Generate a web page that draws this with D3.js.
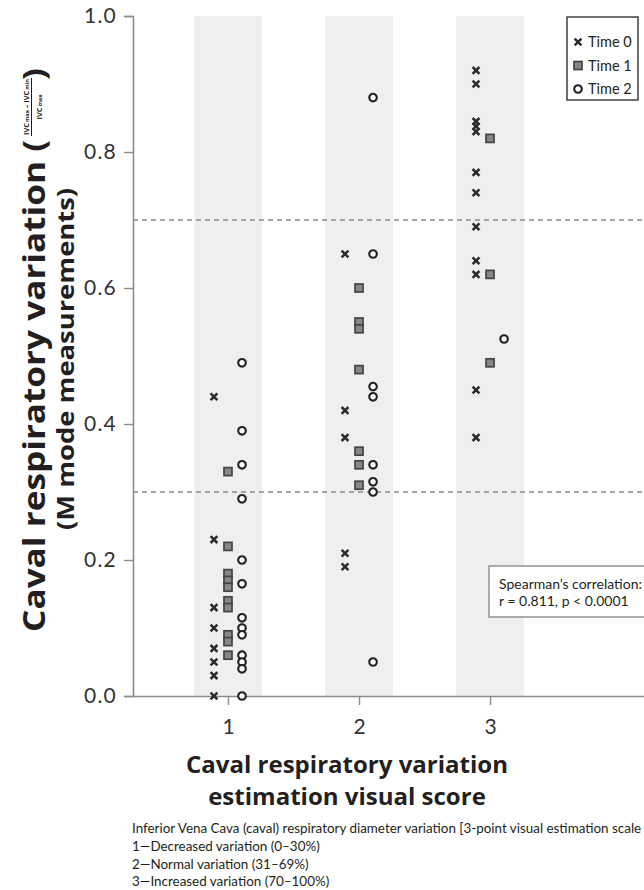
<!DOCTYPE html>
<html>
<head>
<meta charset="utf-8">
<script src="https://cdn.jsdelivr.net/npm/d3@7"></script>
<style>
  body { margin: 0; background: #fff; }
  svg { display: block; font-family: "Lato", "Open Sans", sans-serif; }
</style>
</head>
<body>
<script>
// visual score categories and series labels
var scores = [1, 2, 3];
var timeLabels = ["Time 0", "Time 1", "Time 2"];

// caval respiratory variation, one list per visual score
var time0Values = [
  [0.44, 0.23, 0.13, 0.10, 0.07, 0.05, 0.03, 0.0],
  [0.65, 0.42, 0.38, 0.21, 0.19],
  [0.92, 0.90, 0.845, 0.838, 0.83, 0.77, 0.74, 0.69, 0.64, 0.62, 0.45, 0.38]
];
var time1Values = [
  [0.33, 0.22, 0.18, 0.17, 0.16, 0.14, 0.13, 0.09, 0.08, 0.06],
  [0.60, 0.55, 0.54, 0.48, 0.36, 0.34, 0.31],
  [0.82, 0.62, 0.49]
];
var time2Values = [
  [0.49, 0.39, 0.34, 0.29, 0.20, 0.165, 0.115, 0.10, 0.09, 0.06, 0.05, 0.04, 0.0],
  [0.88, 0.65, 0.455, 0.44, 0.34, 0.315, 0.30, 0.05],
  [0.525]
];

// cut-off lines and axis ticks
var cutoffs = [0.3, 0.7];
var yTicks = [0, 0.2, 0.4, 0.6, 0.8, 1.0];

var footnote = [
  "Inferior Vena Cava (caval) respiratory diameter variation [3-point visual estimation scale",
  "1\u2014Decreased variation (0\u201330%)",
  "2\u2014Normal variation (31\u201369%)",
  "3\u2014Increased variation (70\u2013100%)"
];

window.onload = function() {
  drawChart();
};

function fit(sel, width) {
  // scales the font so the text takes the wanted length
  var w = sel.node().getComputedTextLength();
  var fs = parseFloat(sel.attr("font-size"));
  sel.attr("font-size", fs * width / w);
  return sel;
}

function drawChart() {
  var w = 644,
      h = 890,
      left = 133,
      top = 16,
      bottom = 696,
      ink = "#231f20",
      boldFont = "'Open Sans', sans-serif",
      squeeze = 0.86;

  var svg = d3.select("body")
              .append("svg")
              .attr("width", w)
              .attr("height", h);

  var xScale = d3.scaleLinear()
                 .domain([0.275, 4.175])
                 .range([left, w]);

  var yScale = d3.scaleLinear()
                 .domain([0, 1])
                 .range([bottom, top]);

  var timeOffset = [-0.107, 0, 0.107];
  var bandHalf = 0.26;

  // grey bands behind every score
  svg.selectAll(".band")
     .data(scores)
     .enter()
     .append("rect")
     .attr("class", "band")
     .attr("x", function(d) { return xScale(d - bandHalf); })
     .attr("width", xScale(1 + bandHalf) - xScale(1 - bandHalf))
     .attr("y", yScale(1))
     .attr("height", yScale(0) - yScale(1))
     .attr("fill", "#efefef");

  // dashed cut-off lines
  svg.selectAll(".cutoff")
     .data(cutoffs)
     .enter()
     .append("line")
     .attr("x1", left)
     .attr("x2", w)
     .attr("y1", function(d) { return yScale(d); })
     .attr("y2", function(d) { return yScale(d); })
     .attr("stroke", "#8a8a8a")
     .attr("stroke-width", 1.4)
     .attr("stroke-dasharray", "5,4");

  // y axis
  var yAxis = d3.axisLeft(yScale)
                .tickValues(yTicks)
                .tickFormat(d3.format(".1f"))
                .tickSize(9)
                .tickPadding(7);
  var gy = svg.append("g")
              .attr("transform", "translate(" + left + ",0)")
              .call(yAxis);
  gy.select(".domain").attr("stroke", "#8c8c8c").attr("stroke-width", 1.6);
  gy.selectAll(".tick line").attr("stroke", "#8c8c8c").attr("stroke-width", 1.4);
  gy.selectAll(".tick text")
    .attr("font-size", 21)
    .attr("letter-spacing", 1.2)
    .attr("font-family", "Lato, sans-serif")
    .attr("fill", "#333");

  // x axis
  var xAxis = d3.axisBottom(xScale)
                .tickValues(scores)
                .tickFormat(d3.format("d"))
                .tickSizeInner(9)
                .tickSizeOuter(0)
                .tickPadding(14);
  var gx = svg.append("g")
              .attr("transform", "translate(0," + bottom + ")")
              .call(xAxis);
  gx.select(".domain").attr("stroke", "#8c8c8c").attr("stroke-width", 1.6);
  gx.selectAll(".tick line").attr("stroke", "#8c8c8c").attr("stroke-width", 1.4);
  gx.selectAll(".tick text")
    .attr("font-size", 21)
    .attr("font-family", "Lato, sans-serif")
    .attr("fill", "#333");

  // points
  var series = [time0Values, time1Values, time2Values];
  var points = [];
  series.forEach(function(groups, t) {
    groups.forEach(function(values, g) {
      values.forEach(function(v) {
        points.push({ time: t, score: scores[g], value: v });
      });
    });
  });

  var marks = svg.selectAll(".pt")
                 .data(points)
                 .enter()
                 .append("g")
                 .attr("class", "pt")
                 .attr("transform", function(d) {
                   return "translate(" + xScale(d.score + timeOffset[d.time]) + "," + yScale(d.value) + ")";
                 });
  marks.each(function(d) { drawMarker(d3.select(this), d.time); });

  // legend
  var legend = svg.append("g");
  legend.append("rect")
        .attr("x", 567)
        .attr("y", 17)
        .attr("width", 71)
        .attr("height", 83)
        .attr("fill", "#fff")
        .attr("stroke", "#333")
        .attr("stroke-width", 1.4);
  var items = legend.selectAll(".item")
                    .data(timeLabels)
                    .enter()
                    .append("g")
                    .attr("transform", function(d, i) { return "translate(578," + (42 + i * 23.5) + ")"; });
  items.each(function(d, i) { drawMarker(d3.select(this), i); });
  items.append("text")
       .attr("x", 10)
       .attr("y", 5)
       .attr("font-size", 14.5)
       .attr("fill", ink)
       .text(function(d) { return d; });

  // correlation box
  svg.append("rect")
     .attr("x", 489)
     .attr("y", 566)
     .attr("width", 170)
     .attr("height", 51)
     .attr("fill", "#fff")
     .attr("stroke", "#9a9a9a")
     .attr("stroke-width", 1.6);
  svg.append("text")
     .attr("x", 499)
     .attr("y", 589)
     .attr("font-size", 14)
     .attr("fill", ink)
     .text("Spearman\u2019s correlation:");
  svg.append("text")
     .attr("x", 499)
     .attr("y", 606)
     .attr("font-size", 14)
     .attr("fill", ink)
     .text("r = 0.811, p < 0.0001");

  // x title
  var xt1 = svg.append("text")
               .attr("x", 347)
               .attr("y", 773)
               .attr("text-anchor", "middle")
               .attr("font-family", boldFont)
               .attr("font-size", 27)
               .attr("font-weight", 700)
               .attr("fill", ink)
               .text("Caval respiratory variation");
  fit(xt1, 322);
  svg.append("text")
     .attr("x", 347)
     .attr("y", 805)
     .attr("text-anchor", "middle")
     .attr("font-family", boldFont)
     .attr("font-size", xt1.attr("font-size"))
     .attr("font-weight", 700)
     .attr("fill", ink)
     .text("estimation visual score");

  // y title, first line with the fraction; squeezed across the baseline like the condensed original
  var yt1 = svg.append("text")
               .attr("transform", "translate(45,632) rotate(-90) scale(1," + squeeze + ")")
               .attr("font-family", boldFont)
               .attr("font-size", 25)
               .attr("font-weight", 700)
               .attr("fill", ink)
               .text("Caval respiratory variation (");
  fit(yt1, 492);
  var yfs = parseFloat(yt1.attr("font-size"));

  var frac = svg.append("g")
                .attr("transform", "translate(0,107) rotate(-90)");
  var num = frac.append("text")
                .attr("x", 0)
                .attr("y", 28.5)
                .attr("text-anchor", "middle")
                .attr("font-family", boldFont)
                .attr("font-size", 10)
                .attr("font-weight", 700)
                .attr("fill", ink);
  num.append("tspan").text("IVC");
  num.append("tspan").attr("font-size", 7.5).text("\u2009max");
  num.append("tspan").text(" \u2013 IVC");
  num.append("tspan").attr("font-size", 7.5).text("\u2009min");
  fit(num, 56);
  var nfs = parseFloat(num.attr("font-size"));
  num.selectAll("tspan").filter(function(d, i) { return i % 2 === 1; }).attr("font-size", nfs * 0.75);
  frac.append("line")
      .attr("x1", -29)
      .attr("x2", 29)
      .attr("y1", 31.5)
      .attr("y2", 31.5)
      .attr("stroke", ink)
      .attr("stroke-width", 1);
  var den = frac.append("text")
                .attr("x", 0)
                .attr("y", 42)
                .attr("text-anchor", "middle")
                .attr("font-family", boldFont)
                .attr("font-size", nfs)
                .attr("font-weight", 700)
                .attr("fill", ink);
  den.append("tspan").text("IVC");
  den.append("tspan").attr("font-size", nfs * 0.75).text("\u2009max");

  svg.append("text")
     .attr("transform", "translate(45,80) rotate(-90) scale(1," + squeeze + ")")
     .attr("font-family", boldFont)
     .attr("font-size", yfs)
     .attr("font-weight", 700)
     .attr("fill", ink)
     .text(")");

  var yt2 = svg.append("text")
               .attr("transform", "translate(74,359) rotate(-90) scale(1," + squeeze + ")")
               .attr("text-anchor", "middle")
               .attr("font-family", boldFont)
               .attr("font-size", yfs)
               .attr("font-weight", 700)
               .attr("fill", ink)
               .text("(M mode measurements)");
  fit(yt2, 342);

  // footnote
  var notes = svg.selectAll(".note")
                 .data(footnote)
                 .enter()
                 .append("text")
                 .attr("class", "note")
                 .attr("x", 132)
                 .attr("y", function(d, i) { return 833 + i * 17.8; })
                 .attr("font-size", 12.5)
                 .attr("fill", ink)
                 .text(function(d) { return d; });
  fit(d3.select(notes.nodes()[0]), 510);
  notes.attr("font-size", d3.select(notes.nodes()[0]).attr("font-size"));
}

function drawMarker(g, t) {
  if (t === 0) {
    g.append("path")
     .attr("d", "M-3.4,-3.4L3.4,3.4M3.4,-3.4L-3.4,3.4")
     .attr("stroke", "#2b2b2b")
     .attr("stroke-width", 2.5)
     .attr("fill", "none");
  } else if (t === 1) {
    g.append("rect")
     .attr("x", -4)
     .attr("y", -4)
     .attr("width", 8)
     .attr("height", 8)
     .attr("fill", "#878787")
     .attr("stroke", "#444")
     .attr("stroke-width", 1.7);
  } else {
    g.append("circle")
     .attr("r", 3.8)
     .attr("fill", "#fff")
     .attr("stroke", "#222")
     .attr("stroke-width", 2.1);
  }
}
</script>
</body>
</html>
